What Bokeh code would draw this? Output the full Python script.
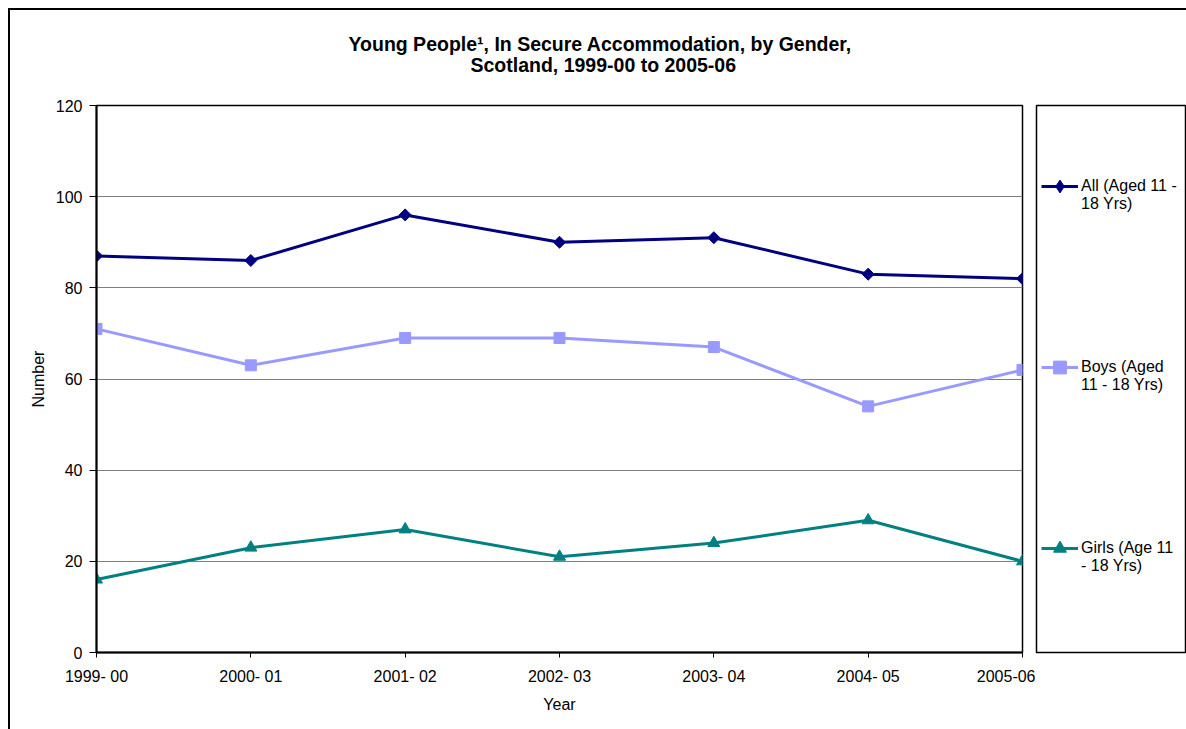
import numpy as np
from bokeh.plotting import figure
from bokeh.layouts import row
from bokeh.models import (Range1d, FixedTicker, Legend, LegendItem, Title)
from bokeh.embed import file_html
from bokeh.resources import INLINE

# ---- data ----
years = ["1999- 00", "2000- 01", "2001- 02", "2002- 03", "2003- 04", "2004- 05", "2005-06"]
all_vals = [87, 86, 96, 90, 91, 83, 82]
boys_vals = [71, 63, 69, 69, 67, 54, 62]
girls_vals = [16, 23, 27, 21, 24, 29, 20]
series_names = ["All (Aged 11 -\n18 Yrs)", "Boys (Aged\n11 - 18 Yrs)", "Girls (Age 11\n- 18 Yrs)"]
title_lines = ["Young People\u00b9, In Secure Accommodation, by Gender,", "Scotland, 1999-00 to 2005-06"]
y_ticks = [0, 20, 40, 60, 80, 100, 120]

FONT = "Liberation Sans"
x = list(range(len(years)))

p = figure(width=1025, height=719, output_backend="svg", toolbar_location=None,
           x_range=Range1d(0, len(years) - 1), y_range=Range1d(0, 120),
           min_border_left=86, min_border_right=13, min_border_top=95, min_border_bottom=77)
p.title.text = ""
p.outline_line_color = "black"
p.outline_line_width = 1.5
p.background_fill_color = "white"
p.border_fill_color = "white"

p.xgrid.grid_line_color = None
p.ygrid.grid_line_color = "#808080"
p.ygrid.grid_line_width = 1

p.xaxis.ticker = FixedTicker(ticks=x)
p.xaxis.major_label_overrides = {i: s for i, s in zip(x, years)}
p.yaxis.ticker = FixedTicker(ticks=y_ticks)
for ax in (p.xaxis[0], p.yaxis[0]):
    ax.axis_line_color = "black"
    ax.axis_line_width = 2
    ax.major_tick_line_color = "black"
    ax.major_tick_line_width = 1
    ax.major_tick_in = 0
    ax.minor_tick_line_color = None
    ax.major_label_text_font = FONT
    ax.major_label_text_font_size = "16px"
    ax.major_label_text_color = "black"
    ax.axis_label_text_font = FONT
    ax.axis_label_text_font_size = "16px"
    ax.axis_label_text_font_style = "normal"
    ax.axis_label_text_color = "black"
p.xaxis.major_tick_out = 5
p.yaxis.major_tick_out = 7
p.xaxis.major_label_standoff = 10
p.yaxis.major_label_standoff = 7
p.xaxis.axis_label = "Year"
p.yaxis.axis_label = "Number"
p.xaxis.axis_label_standoff = 8
p.yaxis.axis_label_standoff = 6

colors = ["#000080", "#9999FF", "#008080"]
data = [all_vals, boys_vals, girls_vals]
plot_markers = [("square", 8.5, np.pi / 4), ("square", 11, 0), ("triangle", 12, 0)]
legend_markers = ["diamond", "square", "triangle"]
for vals, col, (mk, sz, ang) in zip(data, colors, plot_markers):
    p.line(x, vals, line_color=col, line_width=3)
    p.scatter(x, vals, marker=mk, size=sz, angle=ang, fill_color=col, line_color=col)

# second title line first: it sits nearest the plot frame
p.add_layout(Title(text=title_lines[1], align="left", offset=374, standoff=60,
                   text_font=FONT, text_font_style="bold", text_font_size="19.5px",
                   text_color="black"), "above")
p.add_layout(Title(text=title_lines[0], align="left", offset=252, standoff=-66,
                   text_font=FONT, text_font_style="bold", text_font_size="19.5px",
                   text_color="black"), "above")

# ---- legend box (separate panel to the right) ----
lg = figure(width=151, height=719, output_backend="svg", toolbar_location=None,
            x_range=Range1d(0, 1), y_range=Range1d(0, 1),
            x_axis_location=None, y_axis_location=None,
            min_border_left=1, min_border_right=1, min_border_top=95, min_border_bottom=77)
lg.title.text = ""
lg.grid.visible = False
lg.outline_line_color = "black"
lg.outline_line_width = 1.5
lg.background_fill_color = "white"
lg.border_fill_color = "white"

items = []
for name, vals, col, mk in zip(series_names, data, colors, legend_markers):
    # same series; they lie outside this box's ranges, so only their legend swatches show
    rl = lg.line(x, vals, line_color=col, line_width=3)
    rs = lg.scatter(x, vals, marker=mk, fill_color=col, line_color=col)
    items.append(LegendItem(label="\n" + name, renderers=[rl, rs]))

legend = Legend(items=items, location=(5, 54), padding=0, spacing=81,
                glyph_width=37, glyph_height=32, label_standoff=3,
                label_height=100, border_line_color=None,
                label_text_font=FONT, label_text_font_size="16px", label_text_color="black",
                background_fill_alpha=0)
lg.add_layout(legend, "center")

layout = row(p, lg)
layout.styles = {"margin-left": "8px", "margin-top": "8px",
                 "border-left": "2px solid black", "border-top": "2px solid black"}

open("out.html", "w").write(file_html(layout, INLINE))
